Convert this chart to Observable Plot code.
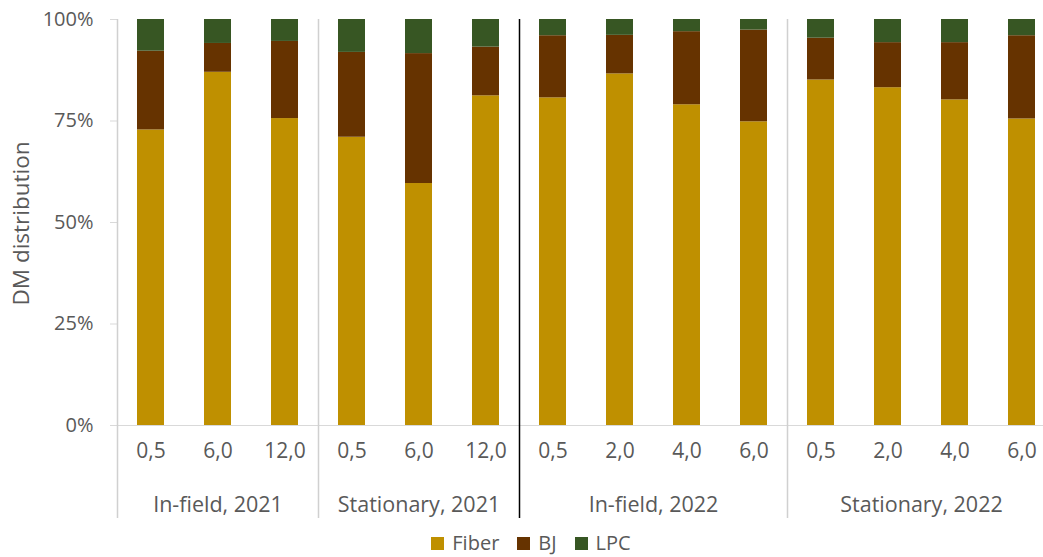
<!DOCTYPE html>
<html><head><meta charset="utf-8">
<script src="https://cdn.jsdelivr.net/npm/d3@7"></script>
<script src="https://cdn.jsdelivr.net/npm/@observablehq/plot@0.6"></script>
<style>
body{margin:0;background:#fff;font-family:"Open Sans",sans-serif;}
#chart svg{display:block;}
#chart svg g[aria-label="y-axis tick"] path{stroke:#d9d9d9;}
#legend{display:flex;justify-content:center;align-items:center;height:28px;line-height:22px;padding-left:19px;font-size:20px;color:#595959;}
#legend .item{display:flex;align-items:center;margin:0 9px;}
#legend .sw{width:13px;height:13px;margin-right:8px;}
</style></head><body><div id="chart"></div><div id="legend"></div>
<script>
const groups = ["In-field, 2021", "Stationary, 2021", "In-field, 2022", "Stationary, 2022"];
const doses = [["0,5", "6,0", "12,0"], ["0,5", "6,0", "12,0"], ["0,5", "2,0", "4,0", "6,0"], ["0,5", "2,0", "4,0", "6,0"]];
const components = ["Fiber", "BJ", "LPC"];
const colors = ["#BF9000", "#663300", "#375623"];
const fiber = [72.8, 87.0, 75.6, 71.0, 59.6, 81.2, 80.7, 86.6, 79.0, 74.8, 85.1, 83.2, 80.2, 75.5];
const bj    = [19.4,  7.1, 19.0, 20.9, 32.0, 12.0, 15.3,  9.5, 18.0, 22.6, 10.3, 11.1, 14.1, 20.5];
const lpc   = [ 7.8,  5.9,  5.4,  8.1,  8.4,  6.8,  4.0,  3.9,  3.0,  2.6,  4.6,  5.7,  5.7,  4.0];
const yTicks = [0, 0.25, 0.5, 0.75, 1];

const cats = [];
groups.forEach((g, gi) => doses[gi].forEach((d, di) => cats.push({key: g + "|" + d, group: g, dose: d, gi, di})));
const keys = cats.map(c => c.key);
const series = [fiber, bj, lpc];
const rows = [];
cats.forEach((c, i) => components.forEach((comp, ci) => rows.push({key: c.key, component: comp, value: series[ci][i]})));

const W = 1043, H = 529;
const xRange = [117, 1055];
const step = (xRange[1] - xRange[0]) / keys.length;
const firsts = cats.filter(c => c.di === 0);
const grayFirsts = firsts.filter(c => c.gi !== 2);
const blackFirsts = firsts.filter(c => c.gi === 2);
const mids3 = cats.filter(c => doses[c.gi].length === 3 && c.di === 1);
const mids4 = cats.filter(c => doses[c.gi].length === 4 && c.di === 1);

const plot = Plot.plot({
  width: W, height: H,
  marginLeft: 117, marginRight: 0, marginTop: 19, marginBottom: 11,
  style: {fontFamily: "'Open Sans', sans-serif", fontSize: "20px", color: "#595959", background: "#fff"},
  x: {type: "band", domain: keys, range: xRange, paddingInner: 0.6, paddingOuter: 0.3, axis: null},
  y: {domain: [0, 1], range: [425, 19], ticks: yTicks, tickFormat: d3.format(".0%"), tickSize: 7, tickPadding: 17, label: null},
  color: {domain: components, range: colors},
  marks: [
    Plot.barY(rows, {x: "key", y: "value", fill: "component", order: components, offset: "normalize"}),
    Plot.ruleY([0], {stroke: "#d9d9d9"}),
    Plot.ruleX(grayFirsts, {x: "key", dx: -step / 2, stroke: "#d0d0d0", strokeWidth: 1.5}),
    Plot.ruleX(blackFirsts, {x: "key", dx: -step / 2, stroke: "#000", strokeWidth: 1.5}),
    Plot.text(cats, {x: "key", text: "dose", frameAnchor: "bottom", dy: -61, fill: "#595959", fontSize: 21}),
    Plot.text(mids3, {x: "key", text: "group", frameAnchor: "bottom", dy: -7, fill: "#595959", fontSize: 21.5}),
    Plot.text(mids4, {x: "key", text: "group", frameAnchor: "bottom", dy: -7, dx: step / 2, fill: "#595959", fontSize: 21.5}),
    Plot.text(["DM distribution"], {text: d => d, frameAnchor: "left", textAnchor: "middle", dx: -96, dy: -45.5, rotate: -90, fill: "#595959", fontSize: 22.5})
  ]
});
document.getElementById("chart").appendChild(plot);

const legend = document.getElementById("legend");
components.forEach((c, i) => {
  const it = document.createElement("div");
  it.className = "item";
  it.innerHTML = `<div class="sw" style="background:${colors[i]}"></div><span>${c}</span>`;
  legend.appendChild(it);
});
</script>
</body></html>
